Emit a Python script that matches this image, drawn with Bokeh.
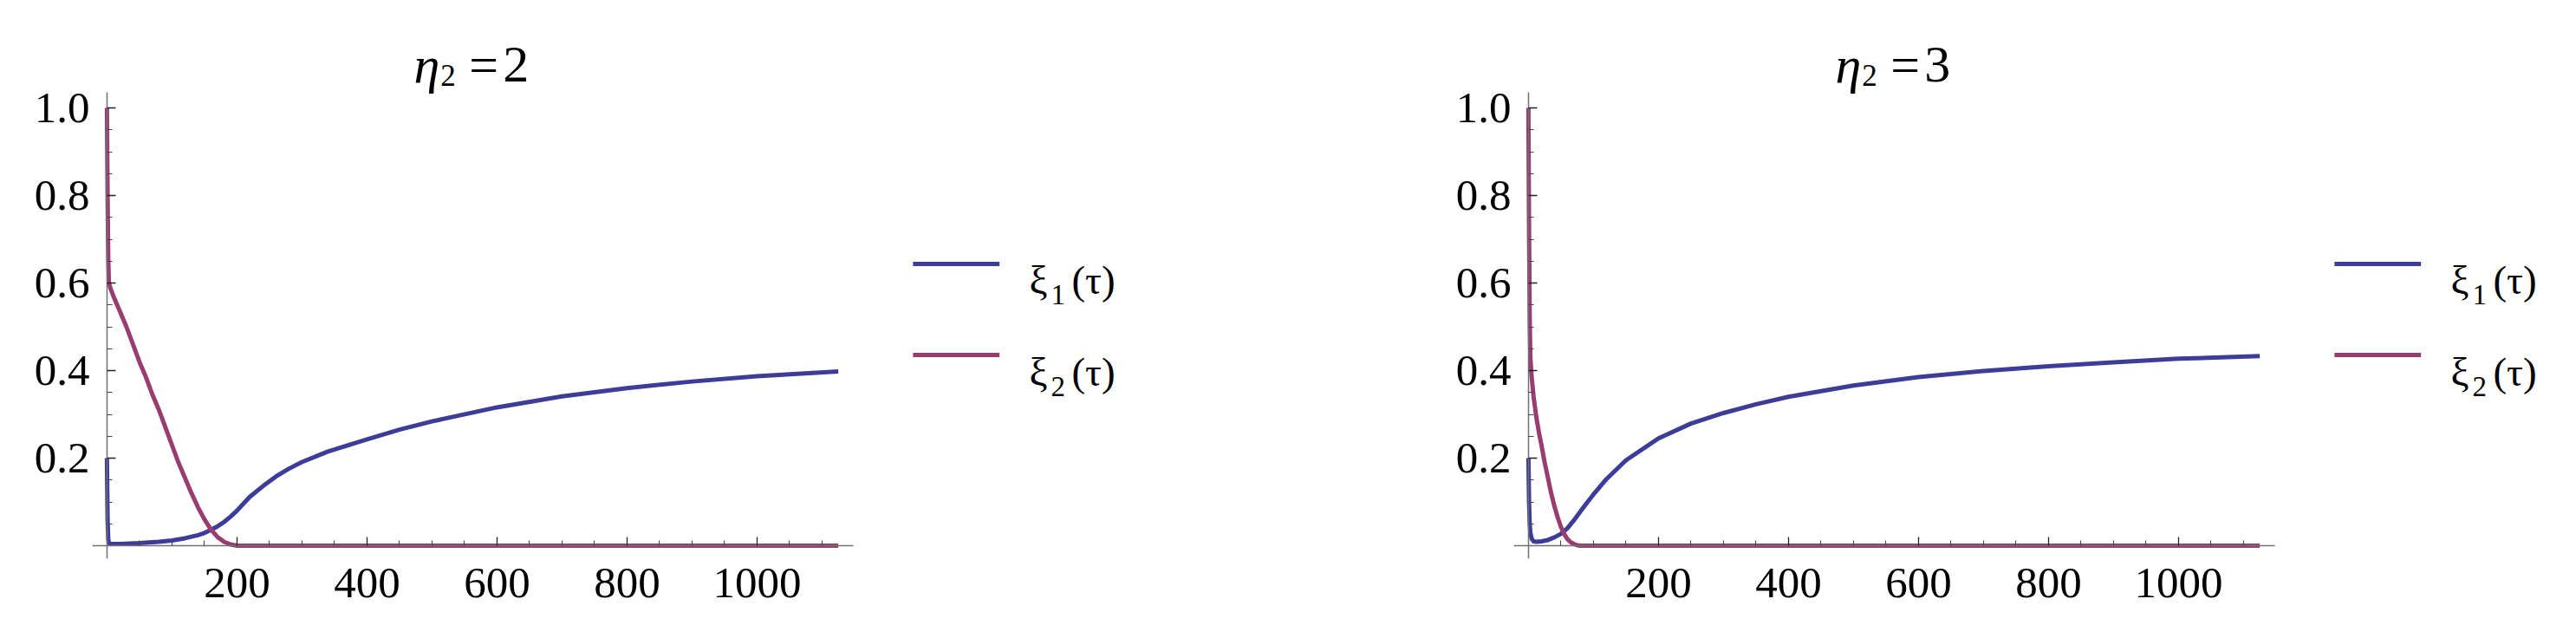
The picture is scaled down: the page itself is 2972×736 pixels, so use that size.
from bokeh.plotting import figure
from bokeh.models import Range1d, FixedTicker, NumeralTickFormatter, LinearAxis
from bokeh.layouts import row
from bokeh.embed import file_html
from bokeh.resources import INLINE
from bokeh.core.properties import value

# ---------------- data ----------------
# panel 1 : eta2 = 2
tau_a_xi1 = [0, 1, 2, 3, 5, 20, 50, 80, 100, 120, 140, 150, 160, 170, 180, 190, 200, 210,
             220, 240, 260, 280, 300, 340, 400, 450, 500, 600, 700, 800, 900, 1000, 1125]
xi1_a = [0.2, 0.06, 0.015, 0.006, 0.004, 0.004, 0.006, 0.009, 0.012, 0.017, 0.024, 0.029,
         0.036, 0.044, 0.054, 0.066, 0.08, 0.096, 0.112, 0.136, 0.158, 0.176, 0.191, 0.215,
         0.243, 0.265, 0.284, 0.316, 0.341, 0.36, 0.375, 0.387, 0.398]
tau_a_xi2 = [0, 1, 2, 3, 5, 10, 20, 30, 40, 50, 60, 70, 80, 90, 100, 110, 120, 130, 140,
             150, 160, 170, 180, 190, 200, 1125]
xi2_a = [1.0, 0.80, 0.66, 0.60, 0.59, 0.57, 0.535, 0.50, 0.46, 0.42, 0.385, 0.345, 0.31,
         0.27, 0.23, 0.19, 0.155, 0.12, 0.088, 0.06, 0.037, 0.02, 0.009, 0.003, 0.0, 0.0]

# panel 2 : eta2 = 3
tau_b_xi1 = [0, 1, 2, 3, 5, 8, 12, 20, 30, 40, 50, 60, 70, 80, 90, 100, 120, 150, 200,
             250, 300, 350, 400, 500, 600, 700, 800, 900, 1000, 1125]
xi1_b = [0.2, 0.1, 0.05, 0.03, 0.016, 0.01, 0.009, 0.01, 0.013, 0.019, 0.027, 0.04,
         0.058, 0.078, 0.098, 0.117, 0.152, 0.195, 0.245, 0.279, 0.303, 0.323, 0.34, 0.366,
         0.385, 0.399, 0.41, 0.419, 0.427, 0.433]
tau_b_xi2 = [0, 1, 2, 3, 5, 8, 12, 16, 20, 25, 30, 35, 40, 45, 50, 55, 60, 65, 70, 75,
             80, 1125]
xi2_b = [1.0, 0.72, 0.52, 0.43, 0.385, 0.34, 0.295, 0.26, 0.23, 0.19, 0.155, 0.12, 0.09,
         0.065, 0.043, 0.027, 0.015, 0.008, 0.004, 0.001, 0.0, 0.0]

eta_values = ["2", "3"]
series_names = [("\u03be", "1", "(\u03c4)"), ("\u03be", "2", "(\u03c4)")]
x_major = [200, 400, 600, 800, 1000]
x_minor = [50, 100, 150, 250, 300, 350, 450, 500, 550, 650, 700, 750, 850, 900, 950,
           1050, 1100]
y_major = [0.2, 0.4, 0.6, 0.8, 1.0]
y_minor = [0.05, 0.1, 0.15, 0.25, 0.3, 0.35, 0.45, 0.5, 0.55, 0.65, 0.7, 0.75, 0.85,
           0.9, 0.95]

# ---------------- style / layout ----------------
BLUE = "#3d3d99"
PURPLE = "#993d71"
FONT = "Liberation Serif"
H = 736
PANEL_W = 1486
BOTTOM = 92
PXU = 0.75            # pixels per tau unit
PYU = 505.0           # pixels per xi unit
AX_X = (-22.5, 1148.2)   # extent of the drawn axes (Mathematica plot range)
AX_Y = (-0.0297, 1.0356)


def make_panel(t1, v1, t2, v2, eta, border_left):
    frame_w = PANEL_W - border_left
    frame_h = H - BOTTOM
    xr = Range1d(AX_X[0], AX_X[0] + frame_w / PXU)
    yr = Range1d(AX_Y[0], AX_Y[0] + frame_h / PYU)
    p = figure(width=PANEL_W, height=H, output_backend="svg", toolbar_location=None,
               x_range=xr, y_range=yr, x_axis_location=None, y_axis_location=None,
               min_border_left=border_left, min_border_right=0, min_border_top=0,
               min_border_bottom=BOTTOM)
    p.outline_line_color = None
    p.grid.visible = False
    p.background_fill_color = "white"

    p.line(t1, v1, line_color=BLUE, line_width=5, line_join="round")
    p.line(t2, v2, line_color=PURPLE, line_width=5, line_join="round")

    xt = FixedTicker(ticks=x_major, minor_ticks=x_minor)
    yt = FixedTicker(ticks=y_major, minor_ticks=y_minor)

    # label axes at the frame edges (labels only)
    xl = LinearAxis(ticker=xt, formatter=NumeralTickFormatter(format="0"))
    yl = LinearAxis(ticker=yt, formatter=NumeralTickFormatter(format="0.0"))
    for ax in (xl, yl):
        ax.axis_line_color = None
        ax.major_tick_line_color = None
        ax.minor_tick_line_color = None
        ax.major_tick_out = 0
        ax.major_tick_in = 0
        ax.minor_tick_out = 0
        ax.minor_tick_in = 0
        ax.major_label_text_font = FONT
        ax.major_label_text_font_size = "51px"
        ax.major_label_text_color = "black"
    xl.major_label_standoff = 11
    yl.major_label_standoff = 3
    p.add_layout(xl, "below")
    p.add_layout(yl, "left")

    # axes crossing at the origin (line and ticks only)
    xa = LinearAxis(ticker=xt, fixed_location=0, bounds=AX_X)
    ya = LinearAxis(ticker=yt, fixed_location=0, bounds=AX_Y)
    for ax in (xa, ya):
        ax.axis_line_color = "#707070"
        ax.axis_line_width = 1.5
        ax.major_tick_line_color = "#222222"
        ax.minor_tick_line_color = "#444444"
        ax.major_tick_line_width = 1.3
        ax.minor_tick_line_width = 1.1
        ax.major_tick_in = 10
        ax.major_tick_out = 0
        ax.minor_tick_in = 6
        ax.minor_tick_out = 0
        ax.major_label_text_font_size = "0px"
        ax.major_label_text_color = None
        ax.major_label_standoff = 0
    p.add_layout(xa, "below")
    p.add_layout(ya, "left")

    # title  eta_2 = n
    tf = value(FONT)
    p.text(x=[472], y=[1.099], text=["\u03b7"], text_font=tf, text_font_size="60px",
           text_font_style="italic", text_baseline="alphabetic", text_color="black")
    p.text(x=[513], y=[1.0733], text=["2"], text_font=tf, text_font_size="35px",
           text_baseline="alphabetic", text_color="black")
    p.text(x=[557, 609], y=[1.099, 1.099], text=["=", eta], text_font=tf,
           text_font_size="60px", text_baseline="alphabetic", text_color="black")

    # legend
    ly = [0.6436, 0.4356]
    p.segment(x0=[1240, 1240], y0=ly, x1=[1373, 1373], y1=ly,
              line_color=[BLUE, PURPLE], line_width=5)
    base = [0.606, 0.398]
    p.text(x=[1418.7] * 2, y=base, text=[n[0] for n in series_names], text_font=tf,
           text_font_size="47px", text_baseline="alphabetic", text_color="black")
    p.text(x=[1452] * 2, y=[b - 0.0337 for b in base], text=[n[1] for n in series_names],
           text_font=tf, text_font_size="33px", text_baseline="alphabetic",
           text_color="black")
    p.text(x=[1484] * 2, y=base, text=[n[2] for n in series_names], text_font=tf,
           text_font_size="47px", text_baseline="alphabetic", text_color="black")
    return p


p1 = make_panel(tau_a_xi1, xi1_a, tau_a_xi2, xi2_a, eta_values[0], 106)
p2 = make_panel(tau_b_xi1, xi1_b, tau_b_xi2, xi2_b, eta_values[1], 260)

layout = row(p1, p2, spacing=0)
open("out.html", "w").write(file_html(layout, INLINE))
